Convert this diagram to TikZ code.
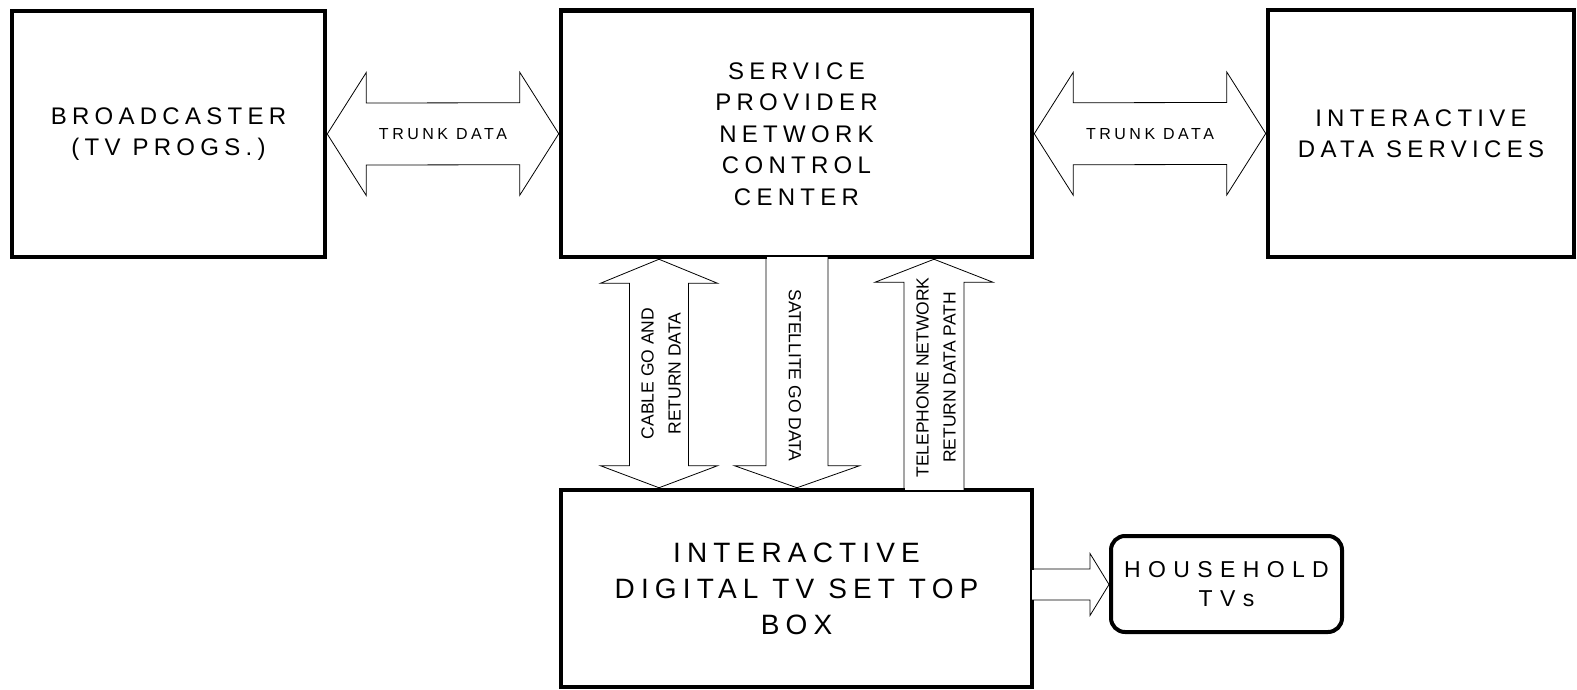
\documentclass[tikz,border=0pt]{standalone}
\usepackage{fontspec}
\setmainfont{Liberation Sans}
\newfontfamily\widefont[LetterSpace=22]{Liberation Sans}
\newfontfamily\widerfont[LetterSpace=32]{Liberation Sans}
\usetikzlibrary{calc}

\begin{document}
\begin{tikzpicture}[x=1pt,y=-1pt,
    box/.style={draw,line width=4.5pt,inner sep=0pt,align=center},
    boxtext/.style={font=\widefont\fontsize{24}{31.5}\selectfont},
    blockarrow/.style={draw,line width=0.8pt,line join=miter},
    trunktext/.style={font=\widefont\fontsize{16}{20}\selectfont,inner sep=0pt},
    pathtext/.style={font=\fontsize{17.5}{27}\selectfont,align=center,inner sep=0pt}]
    \useasboundingbox (0,0) rectangle (1577,690);
    % Boxes
    \node[box,boxtext,minimum width=313pt,minimum height=246pt] (bc) at (168.5,134) {BROADCASTER\\(TV PROGS.)};
    \node[box,boxtext,minimum width=471pt,minimum height=246.5pt] (sp) at (796.5,133.75) {SERVICE\\PROVIDER\\NETWORK\\CONTROL\\CENTER};
    \node[box,boxtext,minimum width=306pt,minimum height=247pt] (ids) at (1421,133.5) {INTERACTIVE\\DATA SERVICES};
    \node[box,minimum width=471pt,minimum height=197pt,font=\widefont\fontsize{28}{36}\selectfont] (stb) at (796.5,588.5) {INTERACTIVE\\DIGITAL TV SET TOP\\BOX};
    \node[box,line width=4pt,rounded corners=14pt,minimum width=231pt,minimum height=96pt,font=\widerfont\fontsize{23}{29}\selectfont] (tv) at (1226.5,584) {HOUSEHOLD\\TVs};
    % Arrow centre lines
    \coordinate (cab) at (659,0);
    \coordinate (sat) at (797,0);
    \coordinate (tel) at (934,0);
    \coordinate (hh) at (0,584.5);
    % Trunk arrows
    \draw[blockarrow] (bc.east) -- ++(39,-61.5) -- ++(0,30.5) -- ($(sp.west)+(-39,-31)$) -- ++(0,-30.5) -- (sp.west)
      -- ++(-39,61.5) -- ++(0,-30.5) -- ($(bc.east)+(39,31)$) -- ++(0,30.5) -- cycle;
    \draw[blockarrow] (sp.east) -- ++(39,-61.5) -- ++(0,30.5) -- ($(ids.west)+(-39,-31)$) -- ++(0,-30.5) -- (ids.west)
      -- ++(-39,61.5) -- ++(0,-30.5) -- ($(sp.east)+(39,31)$) -- ++(0,30.5) -- cycle;
    % Cable
    \draw[blockarrow] (sp.south -| cab) -- ++(58.5,24) -- ++(-29,0) -- ($(stb.north -| cab)+(29.5,-22)$) -- ++(29,0) -- (stb.north -| cab)
      -- ++(-58.5,-22) -- ++(29,0) -- ($(sp.south -| cab)+(-29.5,24)$) -- ++(-29,0) -- cycle;
    % Satellite
    \fill[white] ($(sp.south -| sat)+(-30.5,-2.5)$) rectangle ($(sp.south -| sat)+(30.5,2.5)$);
    \draw[blockarrow] ($(sp.south -| sat)+(-31,-2.25)$) -- ($(stb.north -| sat)+(-31,-22)$) -- ++(-31.5,0) -- (stb.north -| sat)
      -- ++(62.5,-22) -- ++(-31.5,0) -- ($(sp.south -| sat)+(31,-2.25)$);
    % Telephone
    \fill[white] ($(stb.north -| tel)+(-29.5,-2.5)$) rectangle ($(stb.north -| tel)+(29.5,2.5)$);
    \draw[blockarrow] ($(stb.north -| tel)+(-30,2.25)$) -- ($(sp.south -| tel)+(-30,23)$) -- ++(-29,0) -- (sp.south -| tel)
      -- ++(59,23) -- ++(-29,0) -- ($(stb.north -| tel)+(30,2.25)$);
    % To the TVs
    \fill[white] ($(stb.east |- hh)+(-2.5,-15)$) rectangle ($(stb.east |- hh)+(2.5,15)$);
    \draw[blockarrow] ($(stb.east |- hh)+(-2.25,-15.5)$) -- ($(tv.west |- hh)+(-19,-15.5)$) -- ++(0,-15.5) -- (tv.west |- hh)
      -- ++(-19,31) -- ++(0,-15.5) -- ($(stb.east |- hh)+(-2.25,15.5)$);
    % Labels
    \node[trunktext] (trunkl) at ($(bc.east)!0.5!(sp.west)$) {TRUNK DATA};
    \node[trunktext] (trunkr) at ($(sp.east)!0.5!(ids.west)$) {TRUNK DATA};
    \node[pathtext,rotate=90] (cabl) at ($(sp.south -| cab)!0.5!(stb.north -| cab)+(2,0)$) {CABLE GO AND\\RETURN DATA};
    \node[pathtext,rotate=-90] (satl) at ($(sp.south -| sat)!0.5!(stb.north -| sat)+(-2,2)$) {SATELLITE GO DATA};
    \node[pathtext,rotate=90] (tell) at ($(sp.south -| tel)!0.5!(stb.north -| tel)+(2,4)$) {TELEPHONE NETWORK\\RETURN DATA PATH};
\end{tikzpicture}
\end{document}
